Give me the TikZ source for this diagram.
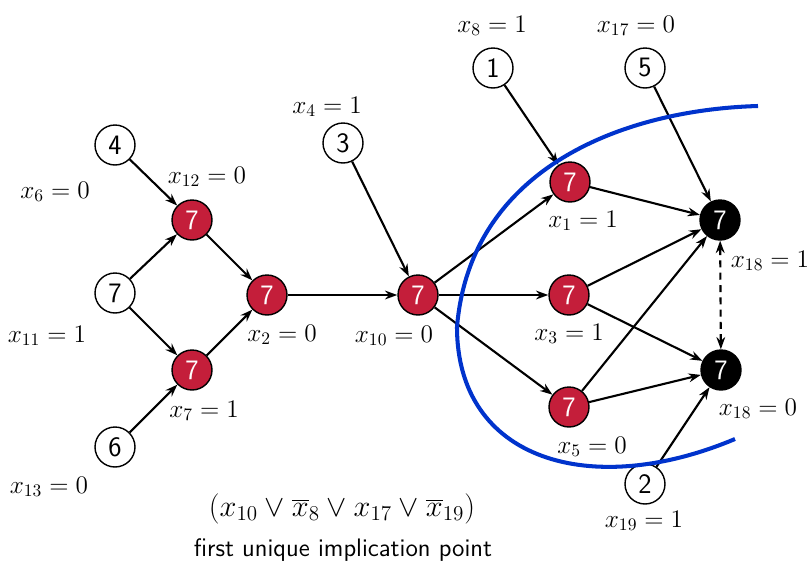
\documentclass[tikz,border=0pt]{standalone}
\usetikzlibrary{arrows.meta}
\definecolor{litred}{RGB}{196,30,58}
\definecolor{cutblue}{RGB}{0,51,204}
\tikzset{
  dec/.style={circle,draw,thick,minimum size=0.8cm,inner sep=0pt,font=\fontsize{16}{16}\sffamily},
  impl/.style={dec,fill=litred,text=white},
  confl/.style={dec,fill=black,text=white},
  val/.style={anchor=base,inner sep=0pt,font=\fontsize{14.4}{16}\selectfont},
  edge/.style={-{Stealth[length=7pt,width=5pt]},line width=1.2pt}
}
\begin{document}
\begin{tikzpicture}[x=0.02cm,y=-0.02cm]
\useasboundingbox (0,0) rectangle (811,565);

% decisions and implied literals
\node[dec] (d4) at (115,145) {4};
\node[dec] (d7) at (115,293) {7};
\node[dec] (d6) at (115,447) {6};
\node[impl] (x12) at (192,220) {7};
\node[impl] (x7) at (192,370) {7};
\node[impl] (x2) at (267,295) {7};
\node[dec] (d3) at (343,143) {3};
\node[impl] (x10) at (418,295) {7};
\node[dec] (d1) at (493,68) {1};
\node[dec] (d5) at (645,68) {5};
\node[impl] (x1) at (570,182) {7};
\node[impl] (x3) at (569,295) {7};
\node[impl] (x5) at (569,407) {7};
\node[confl] (k1) at (720,220) {7};
\node[confl] (k0) at (721,370) {7};
\node[dec] (d2) at (645,484) {2};

% assignments
\node[val] (v6) at (55,198) {$x_6=0$};
\node[val] (v12) at (207,183) {$x_{12}=0$};
\node[val] (v11) at (47,342) {$x_{11}=1$};
\node[val] (v2) at (282,341) {$x_2=0$};
\node[val] (v7) at (204,417) {$x_7=1$};
\node[val] (v13) at (49,493) {$x_{13}=0$};
\node[val] (v4) at (327,113) {$x_4=1$};
\node[val] (v8) at (492,32) {$x_8=1$};
\node[val] (v17) at (636,32) {$x_{17}=0$};
\node[val] (v1) at (583,227) {$x_1=1$};
\node[val] (v18a) at (770,267) {$x_{18}=1$};
\node[val] (v10) at (394,342) {$x_{10}=0$};
\node[val] (v3) at (569,340) {$x_3=1$};
\node[val] (v5) at (592,453) {$x_5=0$};
\node[val] (v18b) at (758,415) {$x_{18}=0$};
\node[val] (v19) at (644,527) {$x_{19}=1$};

\node[val,font=\fontsize{17}{19}\selectfont] (cl) at (342,516) {$(x_{10}\vee\overline{x}_8\vee x_{17}\vee\overline{x}_{19})$};
\node[val,font=\fontsize{14.4}{16}\sffamily] (uip) at (343,556) {first unique implication point};

% implications
\draw[edge] (d4) -- (x12);
\draw[edge] (d7) -- (x12);
\draw[edge] (d7) -- (x7);
\draw[edge] (d6) -- (x7);
\draw[edge] (x12) -- (x2);
\draw[edge] (x7) -- (x2);
\draw[edge] (x2) -- (x10);
\draw[edge] (d3) -- (x10);
\draw[edge] (x10) -- (x1);
\draw[edge] (x10) -- (x3);
\draw[edge] (x10) -- (x5);
\draw[edge] (d1) -- (x1);
\draw[edge] (x1) -- (k1);
\draw[edge] (x3) -- (k1);
\draw[edge] (x5) -- (k1);
\draw[edge] (d5) -- (k1);
\draw[edge] (x3) -- (k0);
\draw[edge] (x5) -- (k0);
\draw[edge] (d2) -- (k0);
\draw[edge,{Stealth[length=7pt,width=5pt]}-{Stealth[length=7pt,width=5pt]},dash pattern=on 4pt off 3pt] (k1) -- (k0);

% cut
\draw[cutblue,line width=2.3pt] (758,106) .. controls (620,110) and (470,170) .. (457,327)
  .. controls (457,460) and (590,500) .. (735,439);
\end{tikzpicture}
\end{document}
